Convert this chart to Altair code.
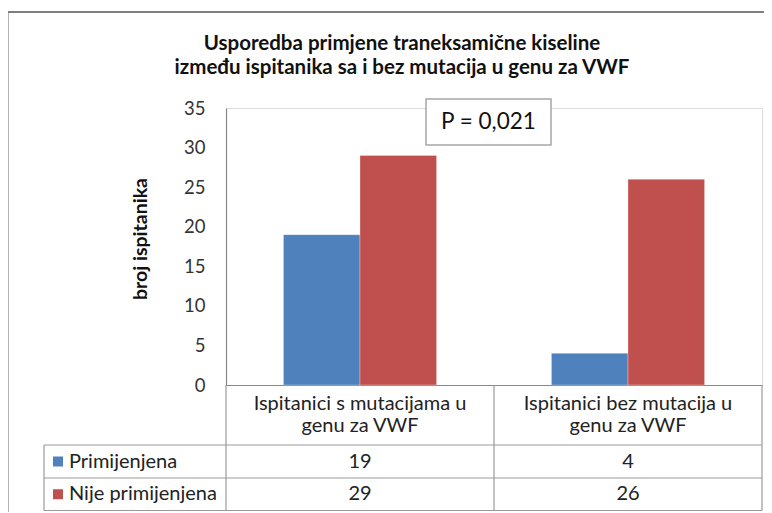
import altair as alt
import pandas as pd

# ---- data ----
categories = ["Ispitanici s mutacijama u genu za VWF", "Ispitanici bez mutacija u genu za VWF"]
category_lines = [["Ispitanici s mutacijama u", "genu za VWF"], ["Ispitanici bez mutacija u", "genu za VWF"]]
series = ["Primijenjena", "Nije primijenjena"]
values_primijenjena = [19, 4]
values_nije = [29, 26]
colors = ["#4F81BD", "#C0504D"]
title_lines = ["Usporedba primjene traneksamične kiseline", "između ispitanika sa i bez mutacija u genu za VWF"]
y_title = "broj ispitanika"
p_text = "P = 0,021"
y_ticks = [0, 5, 10, 15, 20, 25, 30, 35]

FONT = "Lato"
W, H = 536, 277
TFS = 20  # table font size

rows = []
for s, vals in zip(series, [values_primijenjena, values_nije]):
    for c, v in zip(categories, vals):
        rows.append({"category": c, "series": s, "value": v})
df = pd.DataFrame(rows)

xscale = alt.Scale(domain=categories, paddingInner=0, paddingOuter=0)
cscale = alt.Scale(domain=series, range=colors)

bars = alt.Chart(df).mark_bar(stroke="white", strokeWidth=0.5, strokeOpacity=0.6).encode(
    x=alt.X("category:N", scale=xscale, axis=alt.Axis(labels=False, ticks=False, title=None,
                                                      domainColor="#878787", domainWidth=1.2)),
    xOffset=alt.XOffset("series:N", sort=series, scale=alt.Scale(paddingInner=0, paddingOuter=0.75)),
    y=alt.Y("value:Q", scale=alt.Scale(domain=[0, 35], nice=False),
            axis=alt.Axis(values=y_ticks, grid=False, ticks=False, title=None,
                          labelFont=FONT, labelFontSize=18.5, labelColor="#333333", labelPadding=21,
                          domainColor="#878787", domainWidth=1.2)),
    color=alt.Color("series:N", scale=cscale, legend=None),
)

# row positions (relative to plot top)
R_HEAD_END = H + 60
R1_END = H + 93
R2_END = H + 125.5
R1_MID = (R_HEAD_END + R1_END) / 2
R2_MID = (R1_END + R2_END) / 2

# category labels in table header row
cat_df = pd.DataFrame({"category": categories, "label": category_lines})
cat_text = alt.Chart(cat_df).mark_text(font=FONT, fontSize=TFS, color="#222222", baseline="middle",
                                       lineHeight=22).encode(
    x=alt.X("category:N", scale=xscale),
    y=alt.value(H + 19),
    text="label:N",
)

# table values
val_text_1 = alt.Chart(df[df.series == series[0]]).mark_text(font=FONT, fontSize=TFS, color="#222222",
                                                            baseline="middle").encode(
    x=alt.X("category:N", scale=xscale), y=alt.value(R1_MID), text="value:Q")
val_text_2 = alt.Chart(df[df.series == series[1]]).mark_text(font=FONT, fontSize=TFS, color="#222222",
                                                            baseline="middle").encode(
    x=alt.X("category:N", scale=xscale), y=alt.value(R2_MID), text="value:Q")

# legend keys in table
leg_df = pd.DataFrame({"series": series, "ypos": [R1_MID, R2_MID]})
leg_sq = alt.Chart(leg_df).mark_square(size=100, opacity=1).encode(
    x=alt.value(-168), y=alt.Y("ypos:Q", scale=None), color=alt.Color("series:N", scale=cscale, legend=None))
leg_txt = alt.Chart(leg_df).mark_text(font=FONT, fontSize=TFS, color="#222222", align="left",
                                      baseline="middle").encode(
    x=alt.value(-157), y=alt.Y("ypos:Q", scale=None), text="series:N")

# table grid lines
line_color = "#9a9a9a"
hl = pd.DataFrame({"y": [R_HEAD_END, R1_END, R2_END], "x1": [-182, -182, -182], "x2": [W, W, W]})
hlines = alt.Chart(hl).mark_rule(color=line_color, strokeWidth=1.2).encode(
    x=alt.X("x1:Q", scale=None), x2="x2:Q", y=alt.Y("y:Q", scale=None))
vl = pd.DataFrame({"x": [-182, 0, W / 2, W], "y1": [R_HEAD_END, H, H, H], "y2": [R2_END] * 4})
vlines = alt.Chart(vl).mark_rule(color=line_color, strokeWidth=1.2).encode(
    x=alt.X("x:Q", scale=None), y=alt.Y("y1:Q", scale=None), y2="y2:Q")

# outer frame
frame_top = alt.Chart(pd.DataFrame({"a": [0]})).mark_rule(color="#7f7f7f", strokeWidth=2.2).encode(
    x=alt.value(-218.5), x2=alt.value(W + 4), y=alt.value(-96))
frame_left = alt.Chart(pd.DataFrame({"a": [0]})).mark_rule(color="#7f7f7f", strokeWidth=2.2).encode(
    x=alt.value(-218.5), y=alt.value(-97), y2=alt.value(H + 140))

# title (first line placed at y, next line below)
title_df = pd.DataFrame({"t": [title_lines]})
title = alt.Chart(title_df).mark_text(font=FONT, fontSize=20.5, fontWeight="bold", color="#111111",
                                      lineHeight=24, baseline="middle").encode(
    x=alt.value(176), y=alt.value(-64), text="t:N")

# y title
yt = alt.Chart(pd.DataFrame({"t": [y_title]})).mark_text(font=FONT, fontSize=19.5, fontWeight="bold",
                                                         color="#111111", angle=270, baseline="middle").encode(
    x=alt.value(-85), y=alt.value(131), text="t:N")

# P box
pbox = alt.Chart(pd.DataFrame({"a": [0]})).mark_rect(fill="white", stroke="#a6a6a6", strokeWidth=1.5).encode(
    x=alt.value(200), x2=alt.value(325), y=alt.value(-9), y2=alt.value(37))
ptxt = alt.Chart(pd.DataFrame({"t": [p_text]})).mark_text(font=FONT, fontSize=22.5, color="#111111",
                                                          baseline="middle").encode(
    x=alt.value(262.5), y=alt.value(14), text="t:N")

chart = alt.layer(
    frame_top, frame_left, hlines, vlines, bars, cat_text, val_text_1, val_text_2,
    leg_sq, leg_txt, title, yt, pbox, ptxt
).properties(
    width=W, height=H,
    autosize=alt.AutoSizeParams(type="none"),
    padding={"left": 218, "top": 100, "right": 2, "bottom": 127},
).configure_view(stroke=None).configure(background="white")

chart.save("out.html", embed_options={"renderer": "svg", "actions": False})
